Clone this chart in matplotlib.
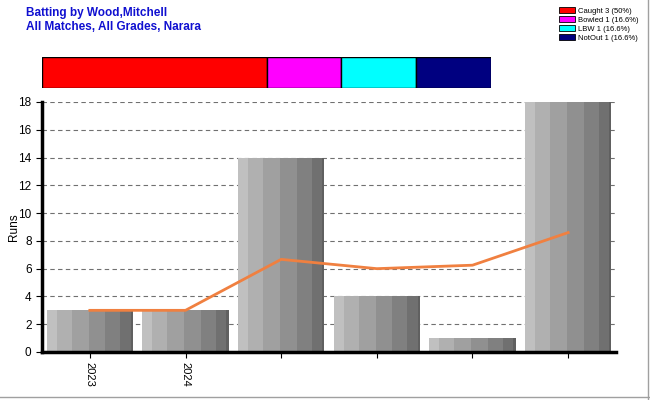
import matplotlib
matplotlib.use("Agg")
import matplotlib.pyplot as plt
from matplotlib.patches import Patch

plt.rcParams['font.family'] = ['Liberation Sans', 'DejaVu Sans']

categories = ["2023", "2024", "", "", "", ""]
runs = [3, 3, 14, 4, 1, 18]
average = [3, 3, 6.67, 6, 6.25, 8.6]
dismissal_labels = ["Caught 3 (50%)", "Bowled 1 (16.6%)", "LBW 1 (16.6%)", "NotOut 1 (16.6%)"]
dismissal_counts = [3, 1, 1, 1]
dismissal_colors = ["#ff0000", "#ff00ff", "#00ffff", "#000080"]

stripe_fracs = [30, 45, 51, 51, 45, 31, 7]
stripe_colors = ["#c0c0c0", "#b0b0b0", "#a0a0a0", "#909090", "#808080", "#707070", "#606060"]

fig = plt.figure(figsize=(6.5, 4.0), dpi=100)

# Title
fig.text(26/650, 1 - 13/400, "Batting by Wood,Mitchell", color="#1010d0", fontsize=8.5,
         fontweight="bold", va="center", ha="left")
fig.text(26/650, 1 - 27/400, "All Matches, All Grades, Narara", color="#1010d0", fontsize=8.5,
         fontweight="bold", va="center", ha="left")

# Dismissal bar
axd = fig.add_axes([42/650, 1 - 88/400, 449/650, 31/400])
left = 0
for c, col in zip(dismissal_counts, dismissal_colors):
    axd.barh(0, c, left=left, color=col, edgecolor="black", linewidth=1, height=1)
    left += c
axd.set_xlim(0, sum(dismissal_counts))
axd.set_ylim(-0.5, 0.5)
axd.axis("off")

# Legend
handles = [Patch(facecolor=col, edgecolor="black", linewidth=0.6) for col in dismissal_colors]
fig.legend(handles, dismissal_labels, loc="upper right", bbox_to_anchor=(645/650, 1 - 1/400),
           fontsize=5.5, frameon=False, handlelength=2.2, handleheight=0.9,
           handletextpad=0.4, labelspacing=0.15, borderpad=0.3)

# Main axes
ax = fig.add_axes([42/650, 48/400, 574/650, 250/400])
width = 0.9
total = sum(stripe_fracs)
for i, v in enumerate(runs):
    x0 = i - width / 2
    for f, col in zip(stripe_fracs, stripe_colors):
        w = width * f / total
        ax.bar(x0, v, width=w, align="edge", color=col, linewidth=0, zorder=2)
        x0 += w

ax.plot(range(len(average)), average, color="#f08040", linewidth=2, zorder=3)

ax.set_xlim(-0.5, len(runs) - 0.5)
ax.set_ylim(0, 18)
ax.set_yticks(range(0, 19, 2))
ax.set_xticks(range(len(runs)))
ax.set_xticklabels(categories, rotation=270, fontsize=8)
ax.tick_params(axis="y", labelsize=8.5, length=4, width=0.8)
ax.tick_params(axis="x", length=4, width=0.8)
ax.yaxis.grid(True, linestyle=(0, (4, 3)), color="#707070", linewidth=0.8, zorder=1)
ax.set_axisbelow(True)
for s in ["top", "right"]:
    ax.spines[s].set_visible(False)
ax.spines["left"].set_linewidth(2.5)
ax.spines["bottom"].set_linewidth(2.5)
ax.set_ylabel("Runs", fontsize=8.5)
ax.yaxis.set_label_coords(-22/574, 0.5)

# Frame lines at figure edge
fig.add_artist(plt.Line2D([648/650, 648/650], [0, 1], color="#a0a0a0", linewidth=1))
fig.add_artist(plt.Line2D([0, 1], [3/400, 3/400], color="#a0a0a0", linewidth=1))

fig.savefig("out.png", dpi=100)
